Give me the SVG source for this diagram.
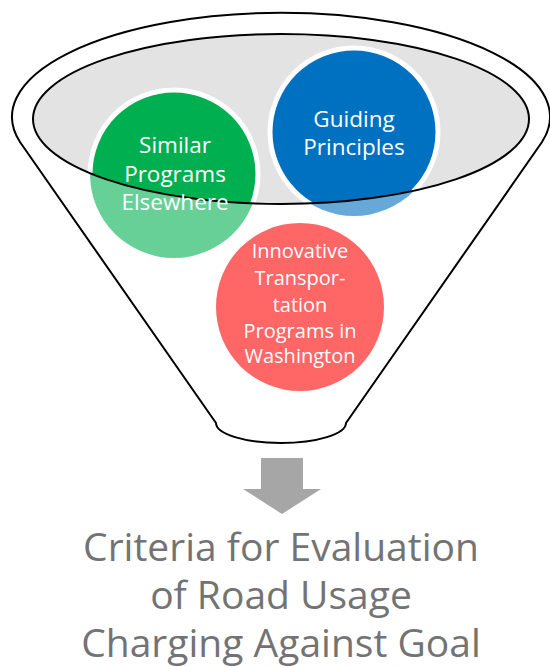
<svg xmlns="http://www.w3.org/2000/svg" width="550" height="667" viewBox="0 0 550 667">
<style>
.outline{fill:none;stroke:#000;stroke-width:2}
.lbl{font-family:"Open Sans","Liberation Sans",sans-serif;fill:#fff;text-anchor:middle}
.big{font-family:"Open Sans","Liberation Sans",sans-serif;fill:#737373;text-anchor:middle;font-size:39px}
.ring{stroke:#fff;stroke-width:5}
</style>
<defs>
<clipPath id="inner"><ellipse cx="281" cy="119" rx="248" ry="85"/></clipPath>
</defs>
<rect width="550" height="667" fill="#fff"/>
<g id="funnel">
<path d="M20,142 L216,423 A65,20 0 0 0 346,423 L542,142 A269,104 0 1 0 20,142 Z" fill="#fff" stroke="#000" stroke-width="2" stroke-linejoin="round"/>
<ellipse cx="281" cy="119" rx="248" ry="85" fill="#E3E3E3"/>
</g>
<g id="similar">
<circle cx="174" cy="174" r="84" fill="#00B050" opacity="0.6"/>
<circle cx="174" cy="174" r="84" fill="#00B050" class="ring" clip-path="url(#inner)"/>
</g>
<g id="guiding">
<circle cx="354" cy="132" r="84" fill="#0070C0" opacity="0.6"/>
<circle cx="354" cy="132" r="84" fill="#0070C0" class="ring" clip-path="url(#inner)"/>
</g>
<g id="innovative">
<circle cx="300" cy="307" r="84" fill="#FF0000" opacity="0.6"/>
</g>
<g id="inner-rim">
<ellipse class="outline" cx="281" cy="119" rx="248" ry="85"/>
</g>
<g id="labels">
<text class="lbl" font-size="22.5" x="175" y="153">Similar</text>
<text class="lbl" font-size="22.5" x="175" y="182">Programs</text>
<text class="lbl" font-size="22.5" x="175" y="210">Elsewhere</text>
<text class="lbl" font-size="22.5" x="354" y="127">Guiding</text>
<text class="lbl" font-size="22.5" x="354" y="155">Principles</text>
<text class="lbl" font-size="20" x="300" y="258">Innovative</text>
<text class="lbl" font-size="20" x="300" y="285">Transpor-</text>
<text class="lbl" font-size="20" x="300" y="312">tation</text>
<text class="lbl" font-size="20" x="300" y="338">Programs in</text>
<text class="lbl" font-size="20" x="300" y="363">Washington</text>
</g>
<g id="connectors">
<path d="M261,458 H303 V489 H321 L282,514 L243,489 H261 Z" fill="#A6A6A6"/>
</g>
<g id="result">
<text class="big" x="281" y="561">Criteria for Evaluation</text>
<text class="big" x="281" y="609">of Road Usage</text>
<text class="big" x="281" y="657">Charging Against Goal</text>
</g>
</svg>
